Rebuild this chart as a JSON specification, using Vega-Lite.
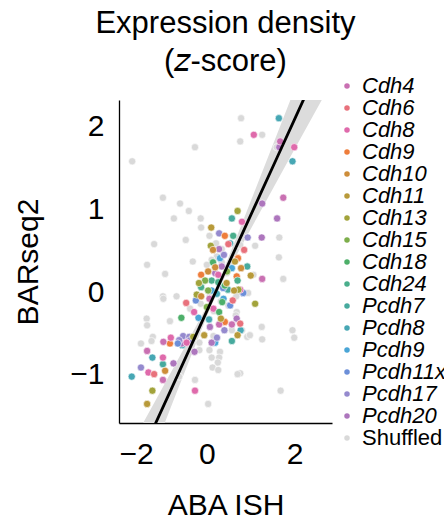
{
  "$schema": "https://vega.github.io/schema/vega-lite/v6.json",
  "autosize": "none",
  "width": 213,
  "height": 323,
  "padding": {"left": 119, "top": 100, "right": 112, "bottom": 97},
  "background": "white",
  "title": {
    "text": ["Expression density", "(𝘻-score)"],
    "font": "Liberation Sans",
    "fontSize": 31,
    "fontWeight": "normal",
    "lineHeight": 38,
    "anchor": "middle",
    "frame": "group",
    "offset": -3,
    "color": "black"
  },
  "config": {
    "view": {"stroke": null},
    "axis": {
      "grid": false,
      "ticks": false,
      "tickSize": 0,
      "domainColor": "black",
      "domainWidth": 1.3,
      "labelFont": "Liberation Sans",
      "labelFontSize": 30,
      "labelColor": "black",
      "titleFont": "Liberation Sans",
      "titleFontSize": 30,
      "titleFontWeight": "normal",
      "titleColor": "black"
    }
  },
  "datasets": {
    "pts": [
      {"x":0.78,"y":2.10,"gene":"Shuffled"},{"x":1.26,"y":1.90,"gene":"Shuffled"},{"x":0.76,"y":1.82,"gene":"Shuffled"},{"x":1.59,"y":1.75,"gene":"Shuffled"},{"x":-0.27,"y":1.75,"gene":"Shuffled"},{"x":-1.70,"y":1.58,"gene":"Shuffled"},{"x":-1.00,"y":1.14,"gene":"Shuffled"},{"x":-0.61,"y":1.07,"gene":"Shuffled"},{"x":-0.41,"y":0.98,"gene":"Shuffled"},{"x":-0.75,"y":0.89,"gene":"Shuffled"},{"x":-0.14,"y":0.89,"gene":"Shuffled"},{"x":-0.13,"y":0.78,"gene":"Shuffled"},{"x":0.06,"y":0.68,"gene":"Shuffled"},{"x":1.65,"y":0.66,"gene":"Shuffled"},{"x":-0.48,"y":0.63,"gene":"Shuffled"},{"x":-1.20,"y":0.58,"gene":"Shuffled"},{"x":1.10,"y":0.56,"gene":"Shuffled"},{"x":0.21,"y":0.59,"gene":"Shuffled"},{"x":0.34,"y":0.52,"gene":"Shuffled"},{"x":0.76,"y":0.57,"gene":"Shuffled"},{"x":0.23,"y":0.43,"gene":"Shuffled"},{"x":0.11,"y":0.39,"gene":"Shuffled"},{"x":0.00,"y":0.33,"gene":"Shuffled"},{"x":-0.32,"y":0.37,"gene":"Shuffled"},{"x":-1.36,"y":0.33,"gene":"Shuffled"},{"x":-0.95,"y":0.22,"gene":"Shuffled"},{"x":1.64,"y":0.42,"gene":"Shuffled"},{"x":1.06,"y":0.21,"gene":"Shuffled"},{"x":1.74,"y":0.16,"gene":"Shuffled"},{"x":0.45,"y":0.23,"gene":"Shuffled"},{"x":0.94,"y":-0.01,"gene":"Shuffled"},{"x":-0.69,"y":-0.05,"gene":"Shuffled"},{"x":-1.00,"y":-0.05,"gene":"Shuffled"},{"x":-0.99,"y":-0.08,"gene":"Shuffled"},{"x":0.07,"y":-0.04,"gene":"Shuffled"},{"x":0.32,"y":-0.11,"gene":"Shuffled"},{"x":0.49,"y":-0.16,"gene":"Shuffled"},{"x":-0.38,"y":-0.20,"gene":"Shuffled"},{"x":-0.14,"y":-0.14,"gene":"Shuffled"},{"x":0.68,"y":-0.24,"gene":"Shuffled"},{"x":0.66,"y":-0.28,"gene":"Shuffled"},{"x":-0.84,"y":-0.35,"gene":"Shuffled"},{"x":-1.37,"y":-0.32,"gene":"Shuffled"},{"x":-1.36,"y":-0.40,"gene":"Shuffled"},{"x":0.57,"y":-0.46,"gene":"Shuffled"},{"x":1.25,"y":-0.42,"gene":"Shuffled"},{"x":0.92,"y":-0.54,"gene":"Shuffled"},{"x":0.98,"y":-0.52,"gene":"Shuffled"},{"x":1.26,"y":-0.57,"gene":"Shuffled"},{"x":1.95,"y":-0.46,"gene":"Shuffled"},{"x":1.99,"y":-0.55,"gene":"Shuffled"},{"x":0.15,"y":-0.53,"gene":"Shuffled"},{"x":-0.17,"y":-0.61,"gene":"Shuffled"},{"x":-1.23,"y":-0.54,"gene":"Shuffled"},{"x":-1.26,"y":-0.59,"gene":"Shuffled"},{"x":-1.50,"y":-0.62,"gene":"Shuffled"},{"x":-0.17,"y":-0.70,"gene":"Shuffled"},{"x":0.06,"y":-0.70,"gene":"Shuffled"},{"x":0.11,"y":-0.79,"gene":"Shuffled"},{"x":0.30,"y":-0.72,"gene":"Shuffled"},{"x":0.28,"y":-0.79,"gene":"Shuffled"},{"x":0.25,"y":-0.85,"gene":"Shuffled"},{"x":0.13,"y":-0.91,"gene":"Shuffled"},{"x":0.26,"y":-0.94,"gene":"Shuffled"},{"x":0.76,"y":-0.98,"gene":"Shuffled"},{"x":0.70,"y":-0.99,"gene":"Shuffled"},{"x":-0.27,"y":-1.06,"gene":"Shuffled"},{"x":1.68,"y":-1.19,"gene":"Shuffled"},{"x":0.03,"y":-1.35,"gene":"Shuffled"},{"x":-0.63,"y":-1.02,"gene":"Shuffled"},{"x":0.80,"y":-0.46,"gene":"Shuffled"},{"x":0.34,"y":0.36,"gene":"Shuffled"},{"x":0.67,"y":-0.05,"gene":"Shuffled"},{"x":0.16,"y":-0.23,"gene":"Shuffled"},
      {"x":1.64,"y":2.10,"gene":"Pcdh8"},{"x":1.07,"y":1.90,"gene":"Cdh8"},{"x":1.67,"y":1.82,"gene":"Cdh4"},{"x":1.65,"y":1.75,"gene":"Pcdh20"},{"x":1.99,"y":1.75,"gene":"Cdh8"},{"x":1.95,"y":1.58,"gene":"Pcdh8"},{"x":1.74,"y":1.14,"gene":"Cdh4"},{"x":1.26,"y":1.07,"gene":"Pcdh20"},{"x":0.70,"y":0.98,"gene":"Cdh13"},{"x":0.57,"y":0.89,"gene":"Pcdh7"},{"x":0.80,"y":0.85,"gene":"Cdh8"},{"x":1.60,"y":0.89,"gene":"Pcdh20"},{"x":0.10,"y":0.78,"gene":"Cdh11"},{"x":0.28,"y":0.71,"gene":"Pcdh17"},{"x":0.41,"y":0.68,"gene":"Cdh9"},{"x":0.60,"y":0.68,"gene":"Cdh24"},{"x":0.93,"y":0.66,"gene":"Pcdh17"},{"x":1.25,"y":0.66,"gene":"Pcdh20"},{"x":0.85,"y":0.51,"gene":"Cdh6"},{"x":0.09,"y":0.56,"gene":"Cdh13"},{"x":0.49,"y":0.58,"gene":"Cdh6"},{"x":0.53,"y":0.59,"gene":"Pcdh8"},{"x":0.28,"y":0.52,"gene":"Pcdh20"},{"x":0.39,"y":0.45,"gene":"Pcdh17"},{"x":0.30,"y":0.41,"gene":"Pcdh9"},{"x":0.64,"y":0.37,"gene":"Cdh11"},{"x":0.78,"y":0.29,"gene":"Cdh10"},{"x":0.92,"y":0.31,"gene":"Pcdh7"},{"x":1.00,"y":0.20,"gene":"Cdh11"},{"x":1.26,"y":0.16,"gene":"Cdh4"},{"x":0.34,"y":0.31,"gene":"Pcdh20"},{"x":0.57,"y":0.29,"gene":"Pcdh9"},{"x":0.19,"y":0.30,"gene":"Cdh10"},{"x":-0.13,"y":0.21,"gene":"Cdh9"},{"x":0.03,"y":0.25,"gene":"Cdh10"},{"x":0.11,"y":0.14,"gene":"Cdh24"},{"x":0.26,"y":0.21,"gene":"Cdh8"},{"x":0.19,"y":0.23,"gene":"Pcdh20"},{"x":0.68,"y":0.19,"gene":"Cdh9"},{"x":0.70,"y":0.14,"gene":"Cdh24"},{"x":0.45,"y":0.11,"gene":"Cdh11"},{"x":-0.13,"y":0.06,"gene":"Cdh24"},{"x":0.03,"y":0.02,"gene":"Cdh15"},{"x":0.11,"y":0.02,"gene":"Pcdh9"},{"x":0.23,"y":-0.02,"gene":"Pcdh8"},{"x":0.48,"y":0.03,"gene":"Pcdh7"},{"x":0.62,"y":0.02,"gene":"Cdh11"},{"x":0.72,"y":0.03,"gene":"Cdh13"},{"x":0.82,"y":-0.01,"gene":"Pcdh17"},{"x":0.76,"y":0.03,"gene":"Cdh8"},{"x":0.26,"y":0.12,"gene":"Cdh24"},{"x":-0.23,"y":-0.03,"gene":"Cdh13"},{"x":-0.13,"y":-0.05,"gene":"Cdh10"},{"x":0.06,"y":-0.08,"gene":"Cdh4"},{"x":0.38,"y":-0.08,"gene":"Pcdh9"},{"x":0.59,"y":-0.10,"gene":"Cdh6"},{"x":1.10,"y":-0.14,"gene":"Cdh13"},{"x":-0.47,"y":-0.13,"gene":"Cdh6"},{"x":-0.29,"y":-0.24,"gene":"Cdh8"},{"x":0.15,"y":-0.20,"gene":"Cdh8"},{"x":0.28,"y":-0.24,"gene":"Cdh18"},{"x":-0.58,"y":-0.31,"gene":"Cdh18"},{"x":-0.19,"y":-0.31,"gene":"Pcdh9"},{"x":0.05,"y":-0.33,"gene":"Pcdh8"},{"x":0.32,"y":-0.32,"gene":"Cdh11"},{"x":0.68,"y":-0.32,"gene":"Pcdh20"},{"x":0.28,"y":-0.39,"gene":"Cdh4"},{"x":0.41,"y":-0.36,"gene":"Cdh9"},{"x":0.76,"y":-0.38,"gene":"Cdh6"},{"x":0.57,"y":-0.39,"gene":"Cdh4"},{"x":0.77,"y":-0.46,"gene":"Pcdh8"},{"x":0.07,"y":-0.42,"gene":"Pcdh20"},{"x":0.40,"y":-0.46,"gene":"Pcdh17"},{"x":0.70,"y":-0.52,"gene":"Cdh11"},{"x":0.57,"y":-0.59,"gene":"Pcdh7"},{"x":0.23,"y":-0.55,"gene":"Pcdh17"},{"x":0.11,"y":-0.61,"gene":"Pcdh20"},{"x":0.19,"y":-0.61,"gene":"Pcdh9"},{"x":-0.06,"y":-0.52,"gene":"Cdh11"},{"x":-0.54,"y":-0.53,"gene":"Pcdh17"},{"x":-0.46,"y":-0.56,"gene":"Pcdh20"},{"x":-0.40,"y":-0.54,"gene":"Pcdh17"},{"x":-0.63,"y":-0.58,"gene":"Pcdh17"},{"x":-0.57,"y":-0.62,"gene":"Pcdh20"},{"x":-0.46,"y":-0.61,"gene":"Cdh8"},{"x":-0.38,"y":-0.58,"gene":"Pcdh17"},{"x":-0.82,"y":-0.55,"gene":"Cdh8"},{"x":-0.99,"y":-0.60,"gene":"Cdh4"},{"x":-0.84,"y":-0.62,"gene":"Cdh9"},{"x":-0.56,"y":-0.64,"gene":"Pcdh8"},{"x":-0.66,"y":-0.62,"gene":"Pcdh11x"},{"x":-0.31,"y":-0.54,"gene":"Cdh13"},{"x":-0.28,"y":-0.72,"gene":"Pcdh20"},{"x":-1.36,"y":-0.71,"gene":"Cdh4"},{"x":-1.24,"y":-0.79,"gene":"Pcdh8"},{"x":-1.00,"y":-0.79,"gene":"Cdh8"},{"x":-0.76,"y":-0.86,"gene":"Pcdh20"},{"x":-1.50,"y":-0.91,"gene":"Pcdh17"},{"x":-1.00,"y":-0.87,"gene":"Pcdh7"},{"x":-1.33,"y":-0.97,"gene":"Cdh8"},{"x":-1.20,"y":-0.99,"gene":"Cdh6"},{"x":-0.95,"y":-0.95,"gene":"Cdh10"},{"x":-1.00,"y":-1.06,"gene":"Cdh4"},{"x":-1.71,"y":-1.02,"gene":"Pcdh8"},{"x":-1.24,"y":-1.19,"gene":"Cdh13"},{"x":-0.27,"y":-1.19,"gene":"Cdh8"},{"x":-1.36,"y":-1.35,"gene":"Cdh11"},{"x":0.83,"y":-0.01,"gene":"Pcdh11x"},{"x":0.14,"y":0.36,"gene":"Cdh18"},{"x":-0.04,"y":0.14,"gene":"Cdh15"},{"x":0.41,"y":0.08,"gene":"Cdh18"},{"x":0.53,"y":-0.16,"gene":"Pcdh11x"},{"x":0.00,"y":-0.18,"gene":"Cdh15"},{"x":0.35,"y":-0.12,"gene":"Cdh18"},{"x":-0.18,"y":0.11,"gene":"Cdh13"},{"x":0.71,"y":0.41,"gene":"Cdh9"},{"x":0.14,"y":0.51,"gene":"Cdh10"},{"x":-0.25,"y":-0.10,"gene":"Pcdh11x"},{"x":0.37,"y":0.05,"gene":"Pcdh11x"},{"x":0.46,"y":0.25,"gene":"Cdh15"}
    ],
    "fit": [
      {"x":-1.6,"fit":-2.086,"lo":-2.449,"hi":-1.723},
      {"x":-1.2,"fit":-1.622,"lo":-1.906,"hi":-1.338},
      {"x":-0.8,"fit":-1.158,"lo":-1.364,"hi":-0.952},
      {"x":-0.4,"fit":-0.694,"lo":-0.824,"hi":-0.564},
      {"x":0.0,"fit":-0.230,"lo":-0.294,"hi":-0.166},
      {"x":0.2,"fit":0.002,"lo":-0.048,"hi":0.052},
      {"x":0.4,"fit":0.234,"lo":0.170,"hi":0.298},
      {"x":0.8,"fit":0.698,"lo":0.568,"hi":0.828},
      {"x":1.2,"fit":1.162,"lo":0.956,"hi":1.368},
      {"x":1.6,"fit":1.626,"lo":1.342,"hi":1.910},
      {"x":2.0,"fit":2.090,"lo":1.727,"hi":2.453},
      {"x":2.4,"fit":2.554,"lo":2.111,"hi":2.997},
      {"x":2.8,"fit":3.018,"lo":2.496,"hi":3.540}
    ]
  },
  "layer": [
    {
      "data": {"name": "fit"},
      "mark": {"type": "area", "color": "#dcdcdc", "clip": true},
      "encoding": {
        "x": {"field": "x", "type": "quantitative"},
        "y": {"field": "lo", "type": "quantitative"},
        "y2": {"field": "hi"}
      }
    },
    {
      "data": {"name": "pts"},
      "mark": {"type": "circle", "size": 52, "opacity": 1, "stroke": "white", "strokeWidth": 0.6},
      "encoding": {
        "x": {"field": "x", "type": "quantitative", "scale": {"domain": [-2.0, 2.85], "nice": false, "zero": false}, "axis": {"values": [-2, 0, 2], "format": "d", "title": "ABA ISH", "labelPadding": 16, "titlePadding": 21}},
        "y": {"field": "y", "type": "quantitative", "scale": {"domain": [-1.58, 2.32], "nice": false, "zero": false}, "axis": {"values": [-1, 0, 1, 2], "format": "d", "title": "BARseq2", "labelPadding": 15, "titlePadding": 26}},
        "color": {
          "field": "gene", "type": "nominal",
          "scale": {
            "domain": ["Cdh4","Cdh6","Cdh8","Cdh9","Cdh10","Cdh11","Cdh13","Cdh15","Cdh18","Cdh24","Pcdh7","Pcdh8","Pcdh9","Pcdh11x","Pcdh17","Pcdh20","Shuffled"],
            "range": ["#c970b2","#e8717c","#df6aab","#ee7d3b","#cd8d3a","#b89a3a","#a2a33b","#7dae4b","#4daf69","#4aae8c","#47aa9e","#47a7b4","#4aa5d6","#6c8fd8","#958ace","#ad76bd","#d9d9d9"]
          },
          "legend": {
            "title": null,
            "orient": "none",
            "legendX": 217,
            "legendY": -25,
            "padding": 0,
            "symbolType": "circle",
            "symbolSize": 30,
            "symbolStrokeWidth": 0,
            "labelFont": "Liberation Sans",
            "labelFontSize": 22,
            "labelColor": "black",
            "labelFontStyle": {"expr": "datum.label === 'Shuffled' ? 'normal' : 'italic'"},
            "labelOffset": 4,
            "clipHeight": 22,
            "rowPadding": 0,
            "labelLimit": 200
          }
        },
        "order": {"field": "gene", "type": "nominal", "sort": "descending"}
      }
    },
    {
      "data": {"name": "fit"},
      "mark": {"type": "line", "color": "black", "strokeWidth": 2.8, "clip": true},
      "encoding": {
        "x": {"field": "x", "type": "quantitative"},
        "y": {"field": "fit", "type": "quantitative"}
      }
    }
  ]
}
